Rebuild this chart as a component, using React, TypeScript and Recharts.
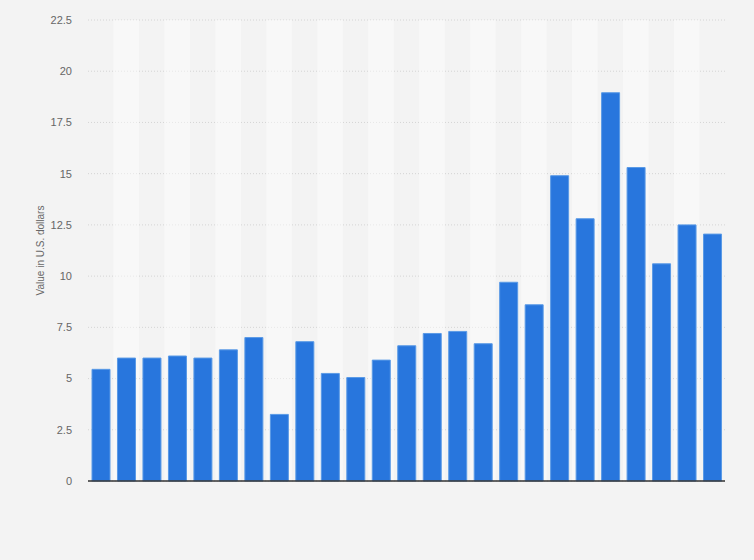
import React from 'react';
import { BarChart, Bar, XAxis, YAxis, CartesianGrid, ReferenceArea } from 'recharts';

// one bar per year, no labels shown on the x axis
const categories = [
  '1996', '1997', '1998', '1999', '2000', '2001', '2002', '2003', '2004', '2005',
  '2006', '2007', '2008', '2009', '2010', '2011', '2012', '2013', '2014', '2015',
  '2016', '2017', '2018', '2019', '2020',
];

const values = [
  5.45, 6, 6, 6.1, 6, 6.4, 7, 3.25, 6.8, 5.25,
  5.05, 5.9, 6.6, 7.2, 7.3, 6.7, 9.7, 8.6, 14.9, 12.8,
  18.95, 15.3, 10.6, 12.5, 12.05,
];

const yTicks = [0, 2.5, 5, 7.5, 10, 12.5, 15, 17.5, 20, 22.5];

const yLabel = 'Value in U.S. dollars';

const FONT = 'Arial, "Liberation Sans", sans-serif';

const data = categories.map((name, i) => ({ name, value: values[i] }));

const App = () => {
  return (
    <div
      style={{
        position: 'absolute',
        left: 0,
        top: 0,
        width: 754,
        height: 560,
        background: '#f3f3f3',
        fontFamily: FONT,
      }}
    >
      <BarChart
        width={754}
        height={560}
        data={data}
        margin={{ top: 20, right: 29, bottom: 49, left: 0 }}
        barSize={18}
      >
        {/* lighter stripe behind every second category */}
        {categories
          .filter((_, i) => i % 2 === 1)
          .map((c) => (
            <ReferenceArea
              key={c}
              x1={c}
              x2={c}
              fill="#ffffff"
              fillOpacity={0.45}
              stroke="none"
              ifOverflow="hidden"
            />
          ))}
        <CartesianGrid
          vertical={false}
          stroke="#d4d4d4"
          strokeDasharray="1 2"
        />
        <XAxis
          dataKey="name"
          tick={false}
          tickLine={false}
          height={30}
          axisLine={{ stroke: '#333333', strokeWidth: 1.5 }}
        />
        <YAxis
          width={88}
          domain={[0, 22.5]}
          ticks={yTicks}
          interval={0}
          axisLine={false}
          tickLine={false}
          tickSize={6}
          tickMargin={10}
          tick={{ fill: '#666666', fontSize: 11, fontFamily: FONT }}
          label={{
            value: yLabel,
            angle: -90,
            position: 'center',
            dx: -4,
            fill: '#666666',
            fontSize: 10,
            fontFamily: FONT,
          }}
        />
        <Bar
          dataKey="value"
          fill="#2876dd"
          stroke="#5a9ae6"
          strokeWidth={1}
          isAnimationActive={false}
        />
      </BarChart>
    </div>
  );
};

export default App;
